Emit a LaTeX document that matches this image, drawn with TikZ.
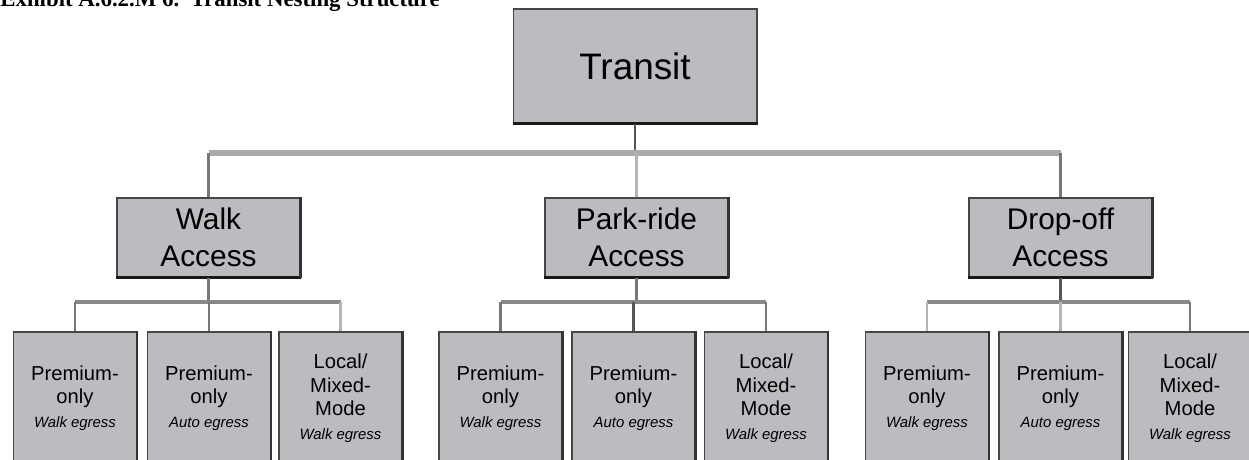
\documentclass[tikz,border=0pt]{standalone}
\usepackage{fontspec}
\setmainfont{Liberation Sans}
\newfontfamily\serifttl{Liberation Serif}
\definecolor{boxfill}{RGB}{186,188,191}
\definecolor{edgedark}{RGB}{70,70,70}
\definecolor{lnA}{RGB}{85,85,85}
\definecolor{lnB}{RGB}{119,119,119}
\definecolor{lnC}{RGB}{180,180,180}
\definecolor{lnD}{RGB}{170,170,170}
\definecolor{lnE}{RGB}{136,136,136}
\begin{document}
\begin{tikzpicture}[x=0.02cm,y=-0.02cm,
  boxbase/.style={draw=edgedark, line width=0.6pt, fill=boxfill, inner sep=0pt, align=center},
  topbox/.style={boxbase, minimum width=4.88cm, minimum height=2.28cm, font=\fontsize{21}{25}\selectfont},
  midbox/.style={boxbase, minimum width=3.66cm, minimum height=1.58cm, font=\fontsize{17}{21}\selectfont},
  leafbox/.style={boxbase, minimum width=2.46cm, minimum height=2.64cm, font=\fontsize{11.5}{13.4}\selectfont},
  conn/.style={line width=1.6pt},
  shadowline/.style={line width=2.2pt, black!90},
  sideline/.style={line width=1.4pt, black!80}
]
\useasboundingbox (0,0) rectangle (1249,460);
\clip (0,0) rectangle (1249,460);

\newcommand{\egress}[1]{{\fontsize{8.5}{10}\selectfont\itshape #1}}

% title (cut off by the top edge, as in the reference)
\node[anchor=base west, inner sep=0pt, font=\serifttl\bfseries\fontsize{13}{15}\selectfont] (title) at (0,6) {Exhibit A.6.2.M 6.\ \ Transit Nesting Structure};

% boxes
\node[topbox] (T) at (635,66) {Transit};
\node[midbox] (W) at (208.5,237.5) {Walk\\Access};
\node[midbox] (P) at (636.5,237.5) {Park-ride\\Access};
\node[midbox] (D) at (1060.5,237.5) {Drop-off\\Access};

\node[leafbox] (W1) at (75,398) {Premium-\\only\\\egress{Walk egress}};
\node[leafbox] (W2) at (209,398) {Premium-\\only\\\egress{Auto egress}};
\node[leafbox] (W3) at (340.5,398) {Local/\\Mixed-\\Mode\\\egress{Walk egress}};
\node[leafbox] (P1) at (500.5,398) {Premium-\\only\\\egress{Walk egress}};
\node[leafbox] (P2) at (633.5,398) {Premium-\\only\\\egress{Auto egress}};
\node[leafbox] (P3) at (766,398) {Local/\\Mixed-\\Mode\\\egress{Walk egress}};
\node[leafbox] (D1) at (927,398) {Premium-\\only\\\egress{Walk egress}};
\node[leafbox] (D2) at (1060.5,398) {Premium-\\only\\\egress{Auto egress}};
\node[leafbox] (D3) at (1190,398) {Local/\\Mixed-\\Mode\\\egress{Walk egress}};

% shadows
\draw[shadowline] (T.south west) -- (T.south east);
\foreach \n in {W,P,D}{
  \draw[shadowline] (\n.south west) -- (\n.south east);
  \draw[sideline] (\n.north east) -- (\n.south east);
}
\foreach \n in {W1,W2,W3,P1,P2,P3,D1,D2,D3}{
  \draw[line width=1.2pt, black!80] (\n.north east) -- (\n.south east);
}

% bar levels
\coordinate (b1) at (635,153);
\coordinate (bW) at (208,302);
\coordinate (bP) at (636,302);
\coordinate (bD) at (1060,302);

% level 1 connectors
\draw[conn, lnA] (T.south) -- (T.south |- b1);
\draw[line width=3.4pt, lnD] (W.north |- b1) -- (D.north |- b1);
\draw[conn, lnB] (W.north |- b1) -- (W.north);
\draw[conn, lnC] (P.north |- b1) -- (P.north);
\draw[conn, lnB] (D.north |- b1) -- (D.north);

% level 2 connectors
\draw[conn, lnB] (W.south) -- (W.south |- bW);
\draw[line width=2.6pt, lnE] (W1.north |- bW) -- (W3.north |- bW);
\draw[conn, lnB] (W1.north |- bW) -- (W1.north);
\draw[conn, lnB] (W2.north |- bW) -- (W2.north);
\draw[conn, lnC] (W3.north |- bW) -- (W3.north);

\draw[conn, lnB] (P.south) -- (P.south |- bP);
\draw[line width=2.6pt, lnE] (P1.north |- bP) -- (P3.north |- bP);
\draw[conn, lnB] (P1.north |- bP) -- (P1.north);
\draw[conn, lnA] (P2.north |- bP) -- (P2.north);
\draw[conn, lnB] (P3.north |- bP) -- (P3.north);

\draw[conn, lnA] (D.south) -- (D.south |- bD);
\draw[line width=2.6pt, lnE] (D1.north |- bD) -- (D3.north |- bD);
\draw[conn, lnC] (D1.north |- bD) -- (D1.north);
\draw[conn, lnC] (D2.north |- bD) -- (D2.north);
\draw[conn, lnB] (D3.north |- bD) -- (D3.north);
\end{tikzpicture}
\end{document}
